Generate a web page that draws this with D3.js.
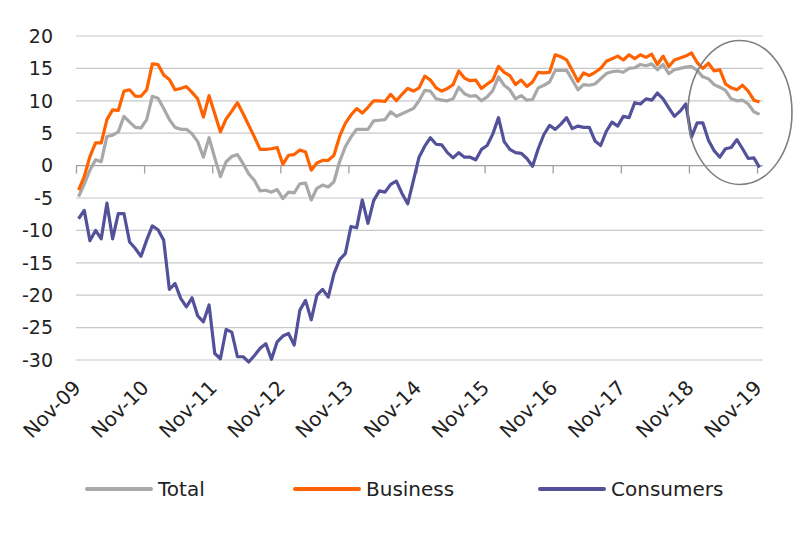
<!DOCTYPE html>
<html>
  <head>
    <meta charset="utf-8" />
    <title>Confidence indicators</title>
    <script src="https://d3js.org/d3.v7.min.js"></script>
    <style>
      body {
        margin: 0;
        background: #fff;
        font-family: "DejaVu Sans", sans-serif;
      }
      .grid line {
        stroke: #c8c8c8;
        stroke-width: 1.2;
      }
      .grid text {
        font-size: 19px;
        fill: #222;
      }
      .zero path,
      .zero line {
        stroke: #a0a0a0;
        stroke-width: 1.3;
      }
      .xlabels text {
        font-size: 20px;
        fill: #222;
      }
      .legend text {
        font-size: 20px;
        fill: #222;
      }
    </style>
  </head>
  <body>
    <svg id="chart" width="800" height="537"></svg>

    <script>
      // Monthly readings, Nov-09 .. Nov-19
      const tickLabels = ['Nov-09', 'Nov-10', 'Nov-11', 'Nov-12', 'Nov-13', 'Nov-14',
                          'Nov-15', 'Nov-16', 'Nov-17', 'Nov-18', 'Nov-19'];

      const total = [
        -4.8, -2.9, -0.7, 0.9, 0.6, 4.5, 4.7, 5.2, 7.6, 6.7, 5.9, 5.8,
        7.1, 10.7, 10.4, 8.8, 7.1, 5.9, 5.6, 5.6, 4.9, 3.7, 1.3, 4.3,
        1.2, -1.7, 0.6, 1.4, 1.7, 0.3, -1.3, -2.3, -3.9, -3.8, -4.1, -3.7,
        -5.1, -4.1, -4.2, -2.8, -2.7, -5.3, -3.5, -3.0, -3.3, -2.5, 0.6, 2.9,
        4.4, 5.6, 5.6, 5.6, 6.9, 7.0, 7.1, 8.3, 7.6, 8.0, 8.4, 8.8,
        10.0, 11.6, 11.5, 10.3, 10.1, 10.0, 10.3, 12.1, 11.1, 10.7, 10.8, 10.0,
        10.6, 11.6, 13.7, 12.4, 11.7, 10.3, 10.8, 10.1, 10.2, 12.0, 12.4, 12.9,
        14.7, 14.7, 14.7, 13.2, 11.7, 12.5, 12.4, 12.6, 13.4, 14.2, 14.5, 14.6,
        14.4, 15.0, 15.1, 15.6, 15.4, 15.7, 14.8, 15.6, 14.2, 14.8, 15.0, 15.2,
        15.3, 14.7, 13.7, 13.4, 12.5, 12.1, 11.6, 10.3, 10.0, 10.1, 9.5, 8.3,
        7.9
      ];

      const business = [
        -3.8, -1.7, 1.4, 3.5, 3.5, 7.1, 8.6, 8.5, 11.5, 11.7, 10.7, 10.7,
        11.7, 15.7, 15.6, 14.0, 13.3, 11.7, 11.9, 12.2, 11.3, 10.3, 7.5, 10.8,
        8.0, 5.2, 7.2, 8.4, 9.7, 8.0, 6.2, 4.4, 2.5, 2.5, 2.6, 2.8,
        0.2, 1.6, 1.7, 2.4, 2.1, -0.7, 0.4, 0.8, 0.8, 1.6, 4.5, 6.5,
        7.8, 8.8, 8.1, 9.0, 10.0, 10.0, 9.9, 11.0, 10.0, 11.0, 11.9, 11.5,
        12.0, 13.8, 13.2, 12.0, 11.5, 11.9, 12.5, 14.6, 13.5, 13.1, 13.2, 11.9,
        12.6, 13.2, 15.3, 14.4, 13.9, 12.5, 13.2, 12.2, 12.9, 14.4, 14.3, 14.4,
        17.1, 16.8, 16.3, 14.7, 13.0, 14.3, 13.9, 14.4, 15.0, 16.1, 16.5, 16.9,
        16.3, 17.1, 16.5, 17.1, 16.7, 17.2, 15.6, 16.9, 15.3, 16.3, 16.6, 16.9,
        17.4, 15.9, 15.0, 15.8, 14.6, 14.8, 12.6, 12.0, 11.7, 12.4, 11.5, 10.1,
        9.8
      ];

      const consumers = [
        -8.2, -6.9, -11.6, -10.0, -11.3, -5.8, -11.3, -7.4, -7.4, -11.8, -12.8, -14.0,
        -11.5, -9.3, -9.9, -11.5, -19.1, -18.2, -20.5, -21.8, -20.4, -23.2, -24.1, -21.5,
        -29.0, -29.8, -25.3, -25.7, -29.5, -29.5, -30.3, -29.3, -28.2, -27.5, -29.9, -27.2,
        -26.3, -25.9, -27.7, -22.3, -20.8, -23.8, -20.0, -19.1, -20.3, -16.7, -14.5, -13.6,
        -9.4, -9.6, -5.3, -8.9, -5.4, -3.9, -4.1, -2.9, -2.4, -4.3, -5.9, -2.3,
        1.3, 3.0, 4.3, 3.3, 3.2, 2.0, 1.2, 2.0, 1.3, 1.3, 0.9, 2.5,
        3.1, 4.9, 7.4, 3.7, 2.5, 2.0, 1.9, 1.1, -0.1, 2.6, 4.8, 6.2,
        5.6, 6.4, 7.4, 5.7, 6.1, 5.9, 5.9, 3.8, 3.1, 5.3, 6.7, 6.1,
        7.6, 7.4, 9.7, 9.5, 10.3, 10.1, 11.2, 10.3, 8.9, 7.6, 8.4, 9.5,
        4.4, 6.6, 6.6, 3.9, 2.3, 1.3, 2.6, 2.8, 4.0, 2.6, 1.1, 1.2,
        -0.3
      ];

      const yTicks = [20, 15, 10, 5, 0, -5, -10, -15, -20, -25, -30];

      const series = [
        { name: 'Total', values: total, color: '#a8a8a8' },
        { name: 'Business', values: business, color: '#ff6200' },
        { name: 'Consumers', values: consumers, color: '#525199' }
      ];

      const svg = d3.select('#chart');

      const x = d3.scaleLinear().domain([0, total.length - 1]).range([76, 757]);
      const y = d3.scaleLinear().domain([-30, 20]).range([360, 36]);
      const gridRight = 763;

      // Horizontal gridlines with value labels
      const grid = svg.append('g')
        .attr('class', 'grid')
        .attr('transform', 'translate(76,0)');

      const gt = grid.selectAll('g')
        .data(yTicks)
        .enter().append('g')
        .attr('transform', d => `translate(0,${y(d)})`);
      gt.filter(d => d !== 0).append('line')
        .attr('x2', gridRight - 76);
      gt.append('text')
        .attr('x', -23)
        .attr('dy', '0.36em')
        .attr('text-anchor', 'end')
        .text(d => d);

      // Zero axis with year ticks
      const yearTicks = tickLabels.map((d, i) => i * 12);
      const zero = svg.append('g')
        .attr('class', 'zero')
        .attr('transform', `translate(0,${y(0)})`)
        .call(d3.axisBottom(x)
          .tickValues(yearTicks)
          .tickSize(8)
          .tickSizeOuter(0)
          .tickFormat(''));
      zero.select('.domain').attr('d', `M76,0H${gridRight}`);

      // Rotated date labels below the plot
      svg.append('g')
        .attr('class', 'xlabels')
        .selectAll('text')
        .data(tickLabels)
        .enter().append('text')
        .attr('text-anchor', 'end')
        .attr('transform', (d, i) => `translate(${x(i * 12) + 6},389) rotate(-45)`)
        .text(d => d);

      // Series lines (points sit slightly inside each month)
      const line = d3.line()
        .x((d, i) => x(i + 0.45))
        .y(d => y(d));

      svg.append('g')
        .selectAll('path')
        .data(series)
        .enter().append('path')
        .attr('d', d => line(d.values))
        .attr('fill', 'none')
        .attr('stroke', d => d.color)
        .attr('stroke-width', 3.2)
        .attr('stroke-linejoin', 'round');

      // Highlight of the latest months
      svg.append('ellipse')
        .attr('cx', x(117))
        .attr('cy', y(8.2))
        .attr('rx', 52)
        .attr('ry', 72)
        .attr('fill', 'none')
        .attr('stroke', '#7f7f7f')
        .attr('stroke-width', 1.6);

      // Legend
      const legendX = [87, 295, 540];
      const legend = svg.append('g')
        .attr('class', 'legend')
        .selectAll('g')
        .data(series)
        .enter().append('g')
        .attr('transform', (d, i) => `translate(${legendX[i]},489)`);
      legend.append('line')
        .attr('x1', 0)
        .attr('x2', 64)
        .attr('stroke', d => d.color)
        .attr('stroke-width', 4)
        .attr('stroke-linecap', 'round');
      legend.append('text')
        .attr('x', 71)
        .attr('dy', '0.36em')
        .text(d => d.name);
    </script>
  </body>
</html>
